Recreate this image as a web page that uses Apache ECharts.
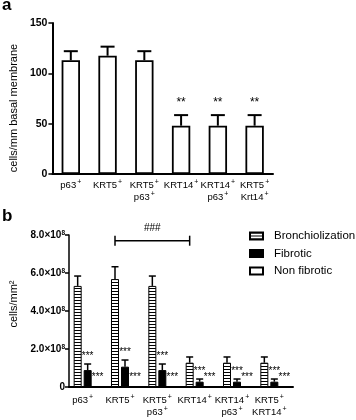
<!DOCTYPE html>
<html>
<head>
<meta charset="utf-8">
<script src="https://cdn.jsdelivr.net/npm/echarts@6/dist/echarts.min.js"></script>
<style>
  html, body { margin: 0; padding: 0; background: #fff; }
  #main { width: 356px; height: 420px; }
</style>
</head>
<body>
<div id="main"></div>
<script>
// panel a
const aCategories = ['p63+', 'KRT5+', 'KRT5+\np63+', 'KRT14+', 'KRT14+\np63+', 'KRT5+\nKrt14+'];
const aMeans = [113, 117.5, 113, 48, 48, 48];
const aUpper = [122, 126.5, 122, 58.5, 58.5, 58.5];
const aStars = ['', '', '', '**', '**', '**'];
const aTicks = [0, 50, 100, 150];

// panel b
const bCategories = ['p63+', 'KRT5+', 'KRT5+\np63+', 'KRT14+', 'KRT14+\np63+', 'KRT5+\nKRT14+'];
const bronch = [5.32e8, 5.68e8, 5.32e8, 1.28e8, 1.28e8, 1.28e8];
const bronchUpper = [5.84e8, 6.33e8, 5.84e8, 1.58e8, 1.58e8, 1.58e8];
const fibrotic = [0.89e8, 1.07e8, 0.89e8, 0.28e8, 0.28e8, 0.28e8];
const fibroticUpper = [1.21e8, 1.42e8, 1.21e8, 0.42e8, 0.42e8, 0.42e8];
const nonFibrotic = [0, 0, 0, 0, 0, 0];
const fibStars = ['***', '***', '***', '***', '***', '***'];
const nonStars = ['***', '***', '***', '***', '***', '***'];
const bracket = [[1, 3, 7.7e8, '###']];
const bTicks = [0, 2e8, 4e8, 6e8, 8e8];

const FONT = '"Liberation Sans", Arial, sans-serif';

// horizontal stripes for Bronchiolization
const stripe = document.createElement('canvas');
stripe.width = 4; stripe.height = 3;
const sctx = stripe.getContext('2d');
sctx.fillStyle = '#fff'; sctx.fillRect(0, 0, 4, 3);
sctx.fillStyle = '#000'; sctx.fillRect(0, 0, 4, 1);

function supLabel(s) {
  return s.replace(/([^\n+]+)\+/g, '{n|$1}{s|+}');
}
const catRich = {
  n: { fontSize: 9.5, fontFamily: FONT, color: '#000', lineHeight: 12 },
  s: { fontSize: 7, fontFamily: FONT, color: '#000', verticalAlign: 'top', lineHeight: 12, padding: [0, 0, 3, 1] }
};

function errorBars(xi, yi, means, upper, stars, offset, capHalf, lw, fontSize, gap) {
  return {
    type: 'custom',
    xAxisIndex: xi, yAxisIndex: yi,
    silent: true, z: 5,
    data: means.map((m, i) => [i, m, upper[i], stars[i]]),
    renderItem(params, api) {
      const lo = api.coord([api.value(0), api.value(1)]);
      const hi = api.coord([api.value(0), api.value(2)]);
      const cx = lo[0] + offset;
      const st = { stroke: '#000', lineWidth: lw };
      const star = stars[params.dataIndex];
      return {
        type: 'group',
        children: [
          { type: 'line', shape: { x1: cx, y1: lo[1], x2: cx, y2: hi[1] }, style: st },
          { type: 'line', shape: { x1: cx - capHalf, y1: hi[1], x2: cx + capHalf, y2: hi[1] }, style: st },
          { type: 'text', style: { text: star, x: cx, y: hi[1] - gap, align: 'center', verticalAlign: 'bottom', font: fontSize + 'px ' + FONT, fill: '#000' } }
        ]
      };
    }
  };
}

const chart = echarts.init(document.getElementById('main'), null, { renderer: 'canvas' });

chart.setOption({
  backgroundColor: '#fff',
  animation: false,
  textStyle: { fontFamily: FONT },
  graphic: [
    { type: 'text', left: 2, top: -3, style: { text: 'a', font: 'bold 17px ' + FONT, fill: '#000' } },
    { type: 'text', left: 2, top: 208, style: { text: 'b', font: 'bold 17px ' + FONT, fill: '#000' } }
  ],
  legend: {
    data: ['Bronchiolization', 'Fibrotic', 'Non fibrotic'],
    orient: 'vertical',
    left: 244, top: 225,
    icon: 'rect',
    itemWidth: 13, itemHeight: 7, itemGap: 5.5,
    textStyle: { fontSize: 11.5, color: '#000', fontFamily: FONT, lineHeight: 12, padding: [0, 0, 0, 6] }
  },
  grid: [
    { left: 44, right: 83, top: 23, bottom: 246 },
    { left: 65, right: 63, top: 235, bottom: 33 }
  ],
  xAxis: [
    {
      type: 'category', gridIndex: 0, data: aCategories,
      axisLine: { lineStyle: { color: '#000', width: 2 } },
      axisTick: { length: 4, lineStyle: { color: '#000', width: 1.5 } },
      axisLabel: { interval: 0, margin: 5, formatter: supLabel, rich: catRich }
    },
    {
      type: 'category', gridIndex: 1, data: bCategories,
      axisLine: { lineStyle: { color: '#000', width: 2 } },
      axisTick: { length: 4, lineStyle: { color: '#000', width: 1.5 } },
      axisLabel: { interval: 0, margin: 7, padding: [0, 10, 0, 0], formatter: supLabel, rich: catRich }
    }
  ],
  yAxis: [
    {
      type: 'value', gridIndex: 0, min: 0, max: 150, interval: 50,
      name: 'cells/mm basal membrane', nameLocation: 'middle', nameGap: 29,
      nameTextStyle: { fontSize: 11, color: '#000', fontFamily: FONT, padding: [0, 19, 0, 0] },
      axisLine: { show: true, lineStyle: { color: '#000', width: 2 } },
      axisTick: { show: true, length: 4, lineStyle: { color: '#000', width: 1.5 } },
      splitLine: { show: false },
      axisLabel: { margin: 5, fontSize: 10.5, fontWeight: 'bold', color: '#000', fontFamily: FONT,
        customValues: aTicks }
    },
    {
      type: 'value', gridIndex: 1, min: 0, max: 8e8, interval: 2e8,
      name: 'cells/mm²', nameLocation: 'middle', nameGap: 50,
      nameTextStyle: { fontSize: 11, color: '#000', fontFamily: FONT, padding: [0, 0, 0, 14] },
      axisLine: { show: true, lineStyle: { color: '#000', width: 1.5 } },
      axisTick: { show: true, length: 4, lineStyle: { color: '#000', width: 1.5 } },
      splitLine: { show: false },
      axisLabel: {
        margin: 4,
        customValues: bTicks,
        formatter: v => v === 0 ? '{v|0}' : '{v|' + (v / 1e8).toFixed(1) + '×10}{e|8}',
        rich: {
          v: { fontSize: 10, fontWeight: 'bold', color: '#000', fontFamily: FONT, lineHeight: 11 },
          e: { fontSize: 6.5, fontWeight: 'bold', color: '#000', fontFamily: FONT, verticalAlign: 'top', lineHeight: 11, padding: [0, 0, 3, 0] }
        }
      }
    }
  ],
  series: [
    {
      type: 'bar', xAxisIndex: 0, yAxisIndex: 0, data: aMeans,
      barWidth: '50%',
      itemStyle: { color: '#fff', borderColor: '#000', borderWidth: 1.8 }
    },
    errorBars(0, 0, aMeans, aUpper, aStars, 0, 7, 2, 12, 6),
    {
      name: 'Bronchiolization', type: 'bar', xAxisIndex: 1, yAxisIndex: 1, data: bronch,
      barWidth: 8, barGap: '25%',
      itemStyle: { color: { image: stripe, repeat: 'repeat' }, borderColor: '#000', borderWidth: 1 }
    },
    {
      name: 'Fibrotic', type: 'bar', xAxisIndex: 1, yAxisIndex: 1, data: fibrotic,
      barWidth: 8, barGap: '25%',
      itemStyle: { color: '#000', borderColor: '#000', borderWidth: 1 }
    },
    {
      name: 'Non fibrotic', type: 'bar', xAxisIndex: 1, yAxisIndex: 1, data: nonFibrotic,
      barWidth: 8, barGap: '25%',
      itemStyle: { color: '#fff', borderColor: '#000', borderWidth: 1.2 },
      label: {
        show: true, position: 'top', distance: 4,
        formatter: p => nonStars[p.dataIndex],
        fontSize: 10, color: '#000', fontFamily: FONT
      }
    },
    errorBars(1, 1, bronch, bronchUpper, bronch.map(() => ''), -10, 3.5, 1.5, 10, 4),
    errorBars(1, 1, fibrotic, fibroticUpper, fibStars, 0, 3.5, 1.5, 10, 3),
    {
      type: 'custom', xAxisIndex: 1, yAxisIndex: 1, silent: true, z: 5,
      data: bracket,
      renderItem(params, api) {
        const a = api.coord([api.value(0), api.value(2)]);
        const b = api.coord([api.value(1), api.value(2)]);
        const x1 = a[0] - 10, x2 = b[0] - 10, y = a[1];
        const st = { stroke: '#000', lineWidth: 1.5 };
        return {
          type: 'group',
          children: [
            { type: 'line', shape: { x1: x1, y1: y, x2: x2, y2: y }, style: st },
            { type: 'line', shape: { x1: x1, y1: y - 5, x2: x1, y2: y + 5 }, style: st },
            { type: 'line', shape: { x1: x2, y1: y - 5, x2: x2, y2: y + 5 }, style: st },
            { type: 'text', style: { text: bracket[0][3], x: (x1 + x2) / 2, y: y - 7, align: 'center', verticalAlign: 'bottom', font: '10px ' + FONT, fill: '#000' } }
          ]
        };
      }
    }
  ]
});
</script>
</body>
</html>
